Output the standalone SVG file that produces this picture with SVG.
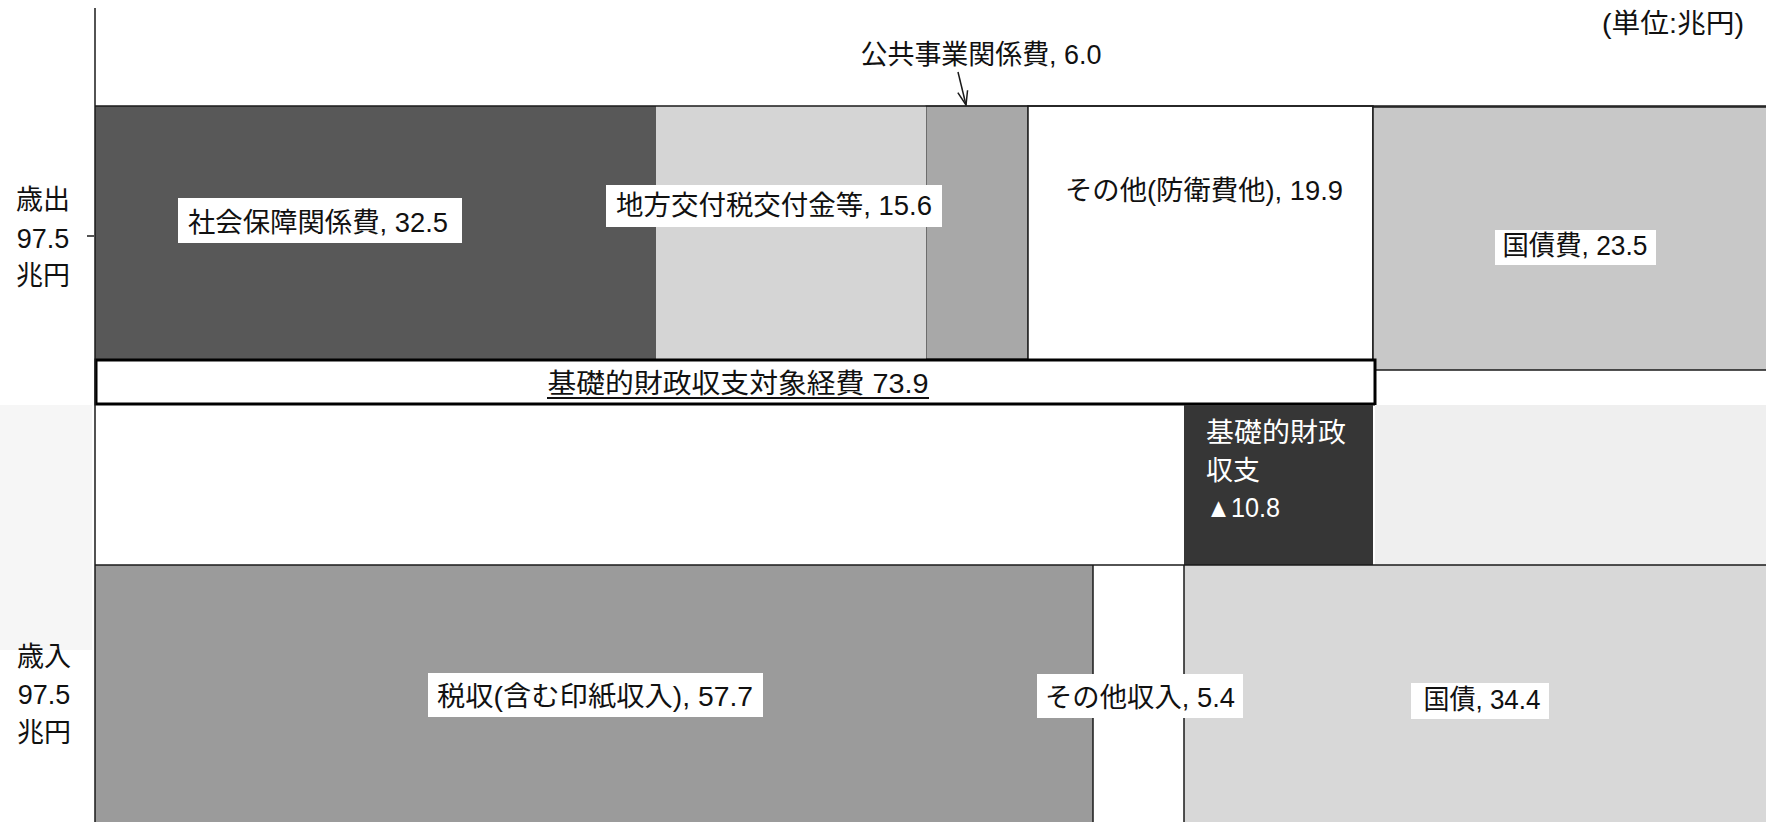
<svg xmlns="http://www.w3.org/2000/svg" width="1766" height="822" viewBox="0 0 1766 822">
<defs>
<style>
.t{font-family:"Liberation Sans","Noto Sans CJK JP",sans-serif;font-size:27px;fill:#111;dominant-baseline:central}
.m{text-anchor:middle}
.w{fill:#fff}
.lb{fill:#fff;stroke:none}
.ln{stroke:#1a1a1a;stroke-width:1.5;fill:none}
</style>
<marker id="arr" markerUnits="userSpaceOnUse" markerWidth="16" markerHeight="12" viewBox="0 0 16 12" refX="15" refY="6" orient="auto">
<path d="M1,1 L15,6 L1,11" fill="none" stroke="#1a1a1a" stroke-width="1.5"/>
</marker>
</defs>
<rect x="0" y="0" width="1766" height="822" fill="#fff"/>
<rect x="0" y="405" width="92" height="245" fill="#f6f6f6"/>

<g id="unit"><text class="t" x="1602" y="24" font-size="24" textLength="142" lengthAdjust="spacingAndGlyphs">(単位:兆円)</text></g>

<g id="expenditure-label">
<text class="t m" x="43" y="200" font-size="26">歳出</text>
<text class="t m" x="43" y="239" font-size="26">97.5</text>
<text class="t m" x="43" y="276" font-size="26">兆円</text>
</g>
<g id="revenue-label">
<text class="t m" x="44" y="657" font-size="26">歳入</text>
<text class="t m" x="44" y="695" font-size="26">97.5</text>
<text class="t m" x="44" y="733" font-size="26">兆円</text>
</g>

<g id="social-security">
<rect x="95" y="106" width="561" height="253" fill="#585858"/>
<rect class="lb" x="178" y="198" width="284" height="45"/>
<text class="t m" x="318" y="223" textLength="260" lengthAdjust="spacingAndGlyphs">社会保障関係費, 32.5</text>
</g>
<g id="public-works">
<rect x="926" y="106" width="102" height="253" fill="#a8a8a8" stroke="#333" stroke-width="1"/>
<text class="t m" x="981" y="55" textLength="241" lengthAdjust="spacingAndGlyphs">公共事業関係費, 6.0</text>
</g>
<g id="local-allocation">
<rect x="656" y="106" width="270" height="253" fill="#d5d5d5"/>
<rect class="lb" x="606" y="185" width="336" height="42"/>
<text class="t m" x="774" y="206" textLength="316" lengthAdjust="spacingAndGlyphs">地方交付税交付金等, 15.6</text>
</g>
<g id="other-expenditure">
<rect x="1028" y="106" width="345" height="254" fill="#fff" stroke="#1a1a1a" stroke-width="1.5"/>
<text class="t m" x="1204" y="191" textLength="278" lengthAdjust="spacingAndGlyphs">その他(防衛費他), 19.9</text>
</g>
<g id="debt-service">
<rect x="1373" y="107" width="400" height="263" fill="#c8c8c8" stroke="#1a1a1a" stroke-width="1.5"/>
<rect class="lb" x="1495" y="230" width="161" height="35"/>
<text class="t m" x="1575" y="246" textLength="145" lengthAdjust="spacingAndGlyphs">国債費, 23.5</text>
</g>

<g id="primary-expenditure">
<rect x="96" y="360" width="1279" height="44" fill="#fff" stroke="#000" stroke-width="3"/>
<text class="t m" x="738" y="384" textLength="381" lengthAdjust="spacingAndGlyphs">基礎的財政収支対象経費 73.9</text>
<line x1="547" y1="398" x2="929" y2="398" stroke="#111" stroke-width="2"/>
</g>

<g id="primary-balance">
<rect x="1184" y="405" width="189" height="160" fill="#363636"/>
<text class="t w" x="1206" y="433" font-size="27" textLength="140" lengthAdjust="spacingAndGlyphs">基礎的財政</text>
<text class="t w" x="1206" y="471" font-size="27">収支</text>
<text class="t w" x="1206" y="508" font-size="27" textLength="74" lengthAdjust="spacingAndGlyphs">▲10.8</text>
</g>
<g id="balance-fill">
<rect x="1375" y="405" width="391" height="160" fill="#efefef"/>
</g>

<g id="tax-revenue">
<rect x="95" y="565" width="998" height="257" fill="#9b9b9b"/>
<rect class="lb" x="428" y="673" width="335" height="44"/>
<text class="t m" x="595" y="697" textLength="316" lengthAdjust="spacingAndGlyphs">税収(含む印紙収入), 57.7</text>
</g>
<g id="bonds">
<rect x="1184" y="565" width="582" height="257" fill="#d8d8d8"/>
<rect class="lb" x="1411" y="683" width="138" height="36"/>
<text class="t m" x="1482" y="700" textLength="117" lengthAdjust="spacingAndGlyphs">国債, 34.4</text>
</g>
<g id="other-revenue">
<rect x="1093" y="565" width="91" height="257" fill="#fff"/>
<line class="ln" x1="1093" y1="565" x2="1093" y2="822"/>
<line class="ln" x1="1184" y1="565" x2="1184" y2="822"/>
<rect class="lb" x="1037" y="674" width="206" height="44"/>
<text class="t m" x="1140" y="698" textLength="190" lengthAdjust="spacingAndGlyphs">その他収入, 5.4</text>
</g>

<g id="axes">
<line class="ln" x1="95" y1="8" x2="95" y2="822"/>
<line class="ln" x1="95" y1="106" x2="1766" y2="106" stroke-width="2"/>
<line class="ln" x1="95" y1="565" x2="1766" y2="565" stroke-width="2"/>
<line class="ln" x1="87" y1="236" x2="94" y2="236" stroke-width="1"/>
</g>

<g id="connectors">
<line x1="958" y1="72" x2="966" y2="105" stroke="#1a1a1a" stroke-width="1.5" marker-end="url(#arr)"/>
</g>
</svg>
